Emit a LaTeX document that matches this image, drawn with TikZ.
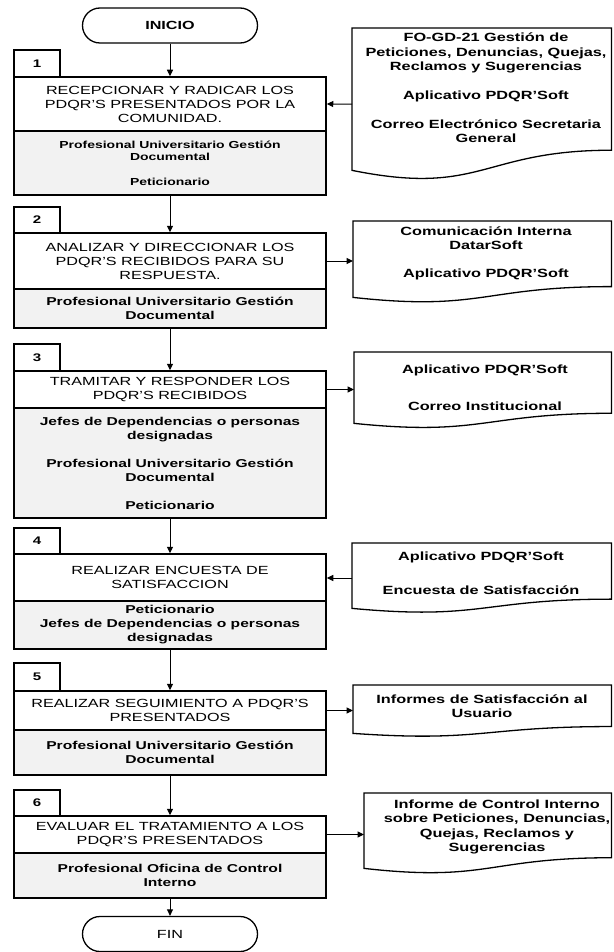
\documentclass[tikz,border=0pt]{standalone}
\usepackage{fontspec}
\setmainfont{Liberation Sans}[FakeStretch=1.37]
\usetikzlibrary{arrows.meta,calc}

% outline of a document symbol drawn round an empty frame node
\newcommand{\docframe}[1]{%
  \draw[line width=1.3pt] let \p1=(#1.north west), \p2=(#1.south east) in
    (\x1,\y1) -- (\x2,\y1) -- (\x2,{\y1+0.802*(\y2-\y1)})
    .. controls ({0.5*(\x1+\x2)},{\y1+0.802*(\y2-\y1)}) and ({0.5*(\x1+\x2)},{\y1+1.107*(\y2-\y1)})
    .. (\x1,{\y1+0.934*(\y2-\y1)}) -- cycle;}

\begin{document}
\begin{tikzpicture}[x=1pt, y=-1pt,
		step_style/.style={rectangle,draw=black,line width=1.5pt,minimum width=312pt,inner sep=0pt,align=center,font=\fontsize{11.8}{14}\selectfont},
		actor_style/.style={step_style,fill=black!5,font=\bfseries\fontsize{11.4}{14}\selectfont},
		num_style/.style={rectangle,draw=black,line width=1.5pt,minimum width=46pt,inner sep=0pt,font=\bfseries\fontsize{11}{13}\selectfont},
		term_style/.style={rectangle,rounded corners=17.5pt,draw=black,line width=1.3pt,minimum width=175pt,minimum height=35pt,font=\fontsize{11.8}{14}\selectfont},
		doc_style/.style={rectangle,inner sep=0pt,anchor=north west},
		text_style/.style={align=center,inner sep=0pt,font=\bfseries\fontsize{11.9}{14.2}\selectfont},
		edge_style/.style={draw=black,line width=1pt,-{Triangle[length=6.5pt,width=6pt]}}]

		\useasboundingbox (0,0) rectangle (613,952);

		\node[term_style] (inicio) at (170,25.5) {\textbf{INICIO}};
		\node[term_style] (fin) at (170,934) {FIN};

		% steps
		\node[step_style, minimum height=54pt] (t1) at (170,104) {RECEPCIONAR Y RADICAR LOS\\PDQR'S PRESENTADOS POR LA\\COMUNIDAD.};
		\node[actor_style, minimum height=64pt, font=\bfseries\fontsize{10.2}{12}\selectfont] (r1) at (170,163) {Profesional Universitario Gestión\\Documental\\[13pt]Peticionario};
		\node[num_style, minimum height=27pt] (n1) at (37,63.5) {1};

		\node[step_style, minimum height=56pt] (t2) at (170,261) {ANALIZAR Y DIRECCIONAR LOS\\PDQR'S RECIBIDOS PARA SU\\RESPUESTA.};
		\node[actor_style, minimum height=39pt] (r2) at (170,308.5) {Profesional Universitario Gestión\\Documental};
		\node[num_style, minimum height=26pt] (n2) at (37,220) {2};

		\node[step_style, minimum height=37pt] (t3) at (170,389.5) {TRAMITAR Y RESPONDER LOS\\PDQR'S RECIBIDOS};
		\node[actor_style, minimum height=110pt] (r3) at (170,463) {Jefes de Dependencias o personas\\designadas\\[14pt]Profesional Universitario Gestión\\Documental\\[14pt]Peticionario};
		\node[num_style, minimum height=27pt] (n3) at (37,357.5) {3};

		\node[step_style, minimum height=47pt] (t4) at (170,577.5) {REALIZAR ENCUESTA DE\\SATISFACCION};
		\node[actor_style, minimum height=48pt] (r4) at (170,625) {Peticionario\\Jefes de Dependencias o personas\\designadas};
		\node[num_style, minimum height=26pt] (n4) at (37,541) {4};

		\node[step_style, minimum height=39pt] (t5) at (170,710.5) {REALIZAR SEGUIMIENTO A PDQR'S\\PRESENTADOS};
		\node[actor_style, minimum height=45pt] (r5) at (170,752.5) {Profesional Universitario Gestión\\Documental};
		\node[num_style, minimum height=28pt] (n5) at (37,677) {5};

		\node[step_style, minimum height=37pt] (t6) at (170,834.5) {EVALUAR EL TRATAMIENTO A LOS\\PDQR'S PRESENTADOS};
		\node[actor_style, minimum height=45pt] (r6) at (170,875.5) {Profesional Oficina de Control\\Interno};
		\node[num_style, minimum height=26pt] (n6) at (37,803) {6};

		% documents
		\node[doc_style, minimum width=259pt, minimum height=152pt] (d1) at (352,28) {};
		\node[doc_style, minimum width=258pt, minimum height=81.4pt] (d2) at (353,221) {};
		\node[doc_style, minimum width=257pt, minimum height=76pt] (d3) at (354,352) {};
		\node[doc_style, minimum width=259pt, minimum height=69.6pt] (d4) at (352,543) {};
		\node[doc_style, minimum width=258pt, minimum height=51.4pt] (d5) at (353,685) {};
		\node[doc_style, minimum width=247pt, minimum height=80.3pt] (d6) at (364,793) {};
		\docframe{d1}
		\docframe{d2}
		\docframe{d3}
		\docframe{d4}
		\docframe{d5}
		\docframe{d6}

		\node[text_style] (d1t) at (486,88) {FO-GD-21 Gestión de\\Peticiones, Denuncias, Quejas,\\Reclamos y Sugerencias\\[15pt]Aplicativo PDQR'Soft\\[15pt]Correo Electrónico Secretaria\\General};
		\node[text_style] (d2t) at (486,253.5) {Comunicación Interna\\DatarSoft\\[14pt]Aplicativo PDQR'Soft};
		\node[text_style] (d3t) at (485,387.5) {Aplicativo PDQR'Soft\\[23pt]Correo Institucional};
		\node[text_style] (d4t) at (481,573.5) {Aplicativo PDQR'Soft\\[20pt]Encuesta de Satisfacción};
		\node[text_style] (d5t) at (482,706.5) {Informes de Satisfacción al\\Usuario};
		\node[text_style] (d6t) at (497,827) {Informe de Control Interno\\sobre Peticiones, Denuncias,\\Quejas, Reclamos y\\Sugerencias};

		% flow
		\draw[edge_style] (inicio) -- (t1);
		\draw[edge_style] (r1) -- (t2);
		\draw[edge_style] (r2) -- (t3);
		\draw[edge_style] (r3) -- (t4);
		\draw[edge_style] (r4) -- (t5);
		\draw[edge_style] (r5) -- (t6);
		\draw[edge_style] (r6) -- (fin);

		\draw[edge_style] (d1.west) -- (t1.east);
		\draw[edge_style] (t2.east) -- (t2.east -| d2.west);
		\draw[edge_style] (t3.east) -- (t3.east -| d3.west);
		\draw[edge_style] (d4.west) -- (d4.west -| t4.east);
		\draw[edge_style] (t5.east) -- (t5.east -| d5.west);
		\draw[edge_style] (t6.east) -- (t6.east -| d6.west);

		\end{tikzpicture}
\end{document}
